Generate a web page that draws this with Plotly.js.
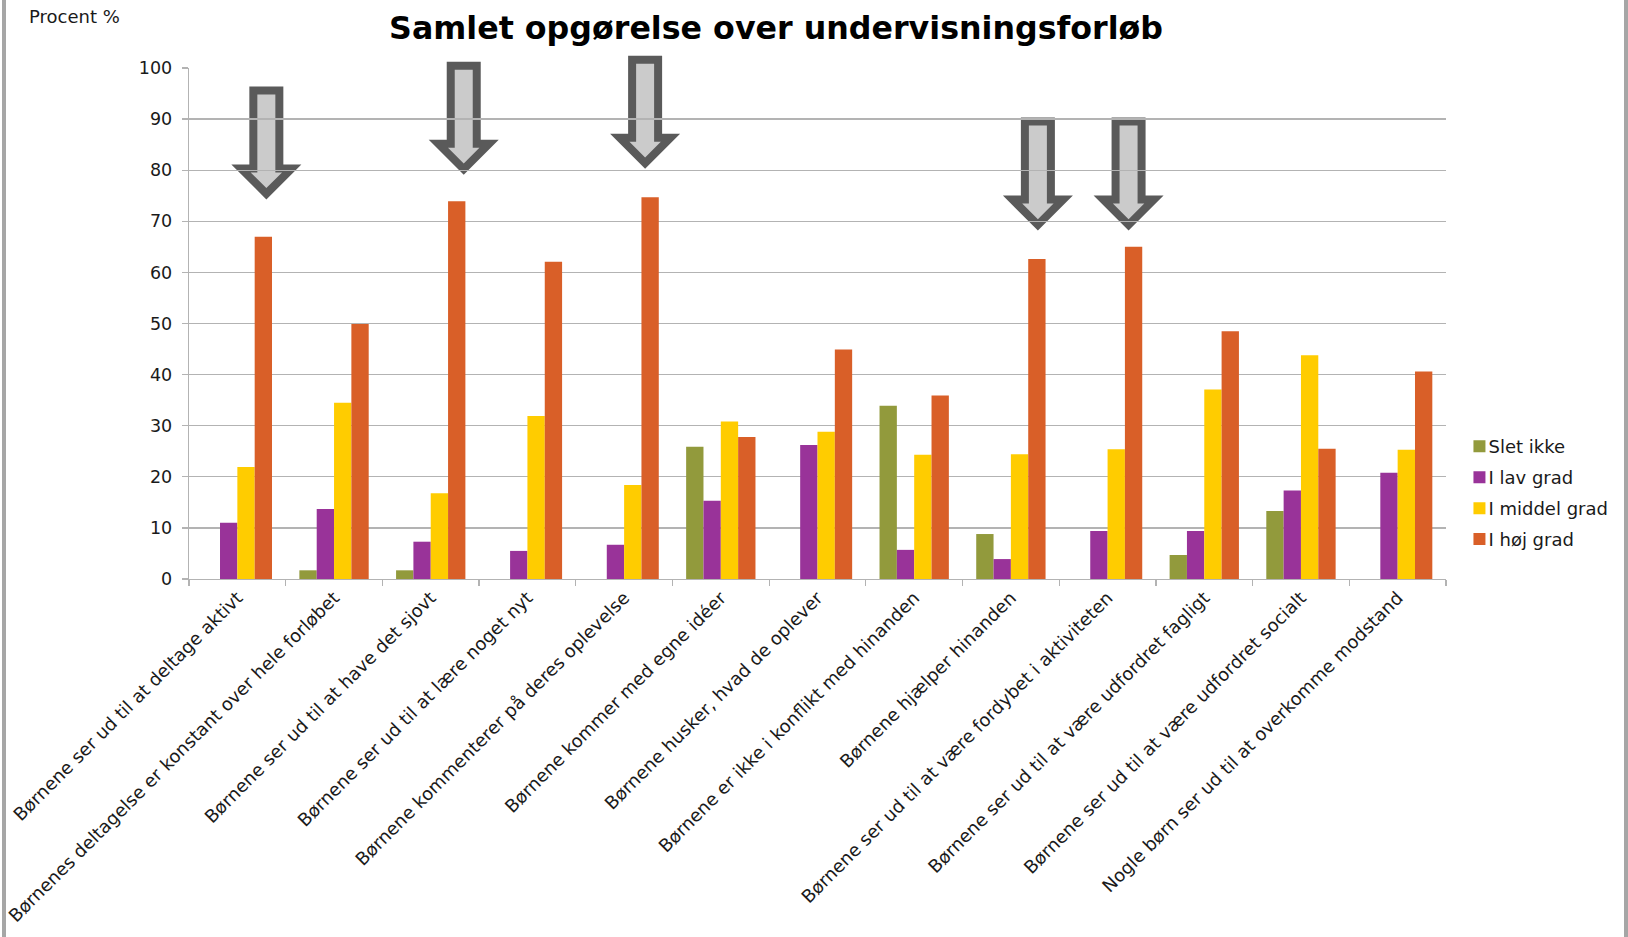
<!DOCTYPE html>
<html>
<head>
<meta charset="utf-8">
<script src="https://cdn.plot.ly/plotly-3.0.1.min.js"></script>
<style>
  html, body { margin: 0; padding: 0; background: #fff; }
  #wrap { position: relative; width: 1628px; height: 937px; overflow: hidden; }
  #chart { position: absolute; left: 0; top: 0; width: 1628px; height: 937px; }
  .edge { position: absolute; top: 0; width: 4px; height: 937px; background: #a6a6a6; }
</style>
</head>
<body>
<div id="wrap">
  <div id="chart"></div>
  <div class="edge" style="left:2px"></div>
  <div class="edge" style="left:1624px"></div>
</div>
<script>
const categories = [
  "Børnene ser ud til at deltage aktivt",
  "Børnenes deltagelse er konstant over hele forløbet",
  "Børnene ser ud til at have det sjovt",
  "Børnene ser ud til at lære noget nyt",
  "Børnene kommenterer på deres oplevelse",
  "Børnene kommer med egne idéer",
  "Børnene husker, hvad de oplever",
  "Børnene er ikke i konflikt med hinanden",
  "Børnene hjælper hinanden",
  "Børnene ser ud til at være fordybet i aktiviteten",
  "Børnene ser ud til at være udfordret fagligt",
  "Børnene ser ud til at være udfordret socialt",
  "Nogle børn ser ud til at overkomme modstand"
];
const seriesNames = ["Slet ikke", "I lav grad", "I middel grad", "I høj grad"];
const sletIkke   = [0, 1.7, 1.7, 0, 0, 25.9, 0, 33.9, 8.8, 0, 4.7, 13.3, 0];
const lavGrad    = [11.0, 13.7, 7.3, 5.5, 6.7, 15.3, 26.2, 5.7, 3.9, 9.4, 9.4, 17.3, 20.8];
const middelGrad = [21.9, 34.5, 16.8, 31.9, 18.4, 30.8, 28.8, 24.3, 24.4, 25.4, 37.1, 43.8, 25.3];
const hojGrad    = [67.0, 49.9, 73.9, 62.1, 74.7, 27.8, 44.9, 35.9, 62.6, 65.0, 48.5, 25.5, 40.6];
const yTicks = [0, 10, 20, 30, 40, 50, 60, 70, 80, 90, 100];

// highlighted categories (arrows): category index and arrow top (in y-axis units)
const arrowCats = [0, 2, 4, 8, 9];
const arrowTops = [96.4, 101.2, 102.4, 90.3, 90.3];
const arrowShift = [29, 33, 21, 27, 21]; // px to the right of category centre

const colors = ["#929A3C", "#993399", "#FFCC00", "#D95F28"];
const values = [sletIkke, lavGrad, middelGrad, hojGrad];

const traces = values.map((v, i) => ({
  type: "bar",
  name: seriesNames[i],
  x: categories,
  y: v,
  legendgroup: "g" + i,
  marker: { color: colors[i], line: { width: 0 } },
  hoverinfo: "x+y+name"
}));

const nCat = categories.length;
const outerArrow = "M -17,0 L 17,0 L 17,-78 L 35,-78 L 0,-113 L -35,-78 L -17,-78 Z";
const innerArrow = "M -9,-8 L 9,-8 L 9,-86 L 15.7,-86 L 0,-101.7 L -15.7,-86 L -9,-86 Z";
const shapes = [];
arrowCats.forEach((c, k) => {
  const xa = (c + 0.5) / nCat;           // category centre on the paper (range -0.5..n-0.5)
  const ya = arrowTops[k] / 100;         // y range 0..100
  [[outerArrow, "#5A5A5A"], [innerArrow, "#CBCBCB"]].forEach(([p, col]) => {
    shapes.push({
      type: "path", layer: "below",
      xref: "paper", yref: "paper",
      xsizemode: "pixel", ysizemode: "pixel",
      xanchor: xa, yanchor: ya,
      path: p.replace(/(-?\d+(\.\d+)?),/g, (m, n) => (parseFloat(n) + arrowShift[k]) + ","),
      fillcolor: col, line: { width: 0 }
    });
  });
});

const font = "'DejaVu Sans', Verdana, sans-serif";
const layout = {
  width: 1628, height: 937,
  margin: { l: 189, r: 182, t: 68, b: 358, autoexpand: false },
  paper_bgcolor: "#ffffff",
  plot_bgcolor: "rgba(0,0,0,0)",
  font: { family: font, color: "#1a1a1a", size: 16 },
  title: {
    text: "<b>Samlet opgørelse over undervisningsforløb</b>",
    font: { family: font, size: 31.7, color: "#000000" },
    x: 0.4767, xref: "container", xanchor: "center",
    y: 0.97, yref: "container", yanchor: "middle"
  },
  barmode: "group",
  bargap: 0.283,
  bargroupgap: 0,
  showlegend: true,
  legend: {
    x: 1.0107, xanchor: "left", y: 0.168, yanchor: "middle",
    font: { family: font, size: 18, color: "#1a1a1a" },
    tracegroupgap: 4.5, traceorder: "grouped",
    bgcolor: "rgba(0,0,0,0)"
  },
  xaxis: {
    type: "category",
    range: [-0.5, nCat - 0.5],
    tickangle: -45,
    tickfont: { family: font, size: 18, color: "#1a1a1a" },
    showline: true, linecolor: "#b3b3b3", linewidth: 1.3,
    ticks: "outside", tickson: "boundaries", ticklen: 6, tickcolor: "#b3b3b3", tickwidth: 1.3,
    showgrid: false, zeroline: false, automargin: false,
    fixedrange: true
  },
  yaxis: {
    range: [0, 100],
    tickvals: yTicks,
    ticktext: yTicks.map(String),
    tickfont: { family: font, size: 17.5, color: "#1a1a1a" },
    ticklabelstandoff: 6,
    showgrid: true, gridcolor: "#b3b3b3", gridwidth: 1.3,
    showline: true, linecolor: "#b3b3b3", linewidth: 1.3,
    ticks: "outside", ticklen: 6, tickcolor: "#b3b3b3", tickwidth: 1.3,
    zeroline: false, automargin: false, fixedrange: true
  },
  shapes: shapes,
  annotations: [{
    text: "Procent %", xref: "paper", yref: "paper",
    x: -0.129, y: 1.1008, xanchor: "left", yanchor: "middle",
    showarrow: false, font: { family: font, size: 18, color: "#1a1a1a" }
  }]
};

Plotly.newPlot("chart", traces, layout, { displayModeBar: false, staticPlot: true }).then(gd => {
  // tighten the gap between legend swatch and label, as in the original
  gd.querySelectorAll(".legendtext").forEach(t => t.setAttribute("x", 29));
});
</script>
</body>
</html>
